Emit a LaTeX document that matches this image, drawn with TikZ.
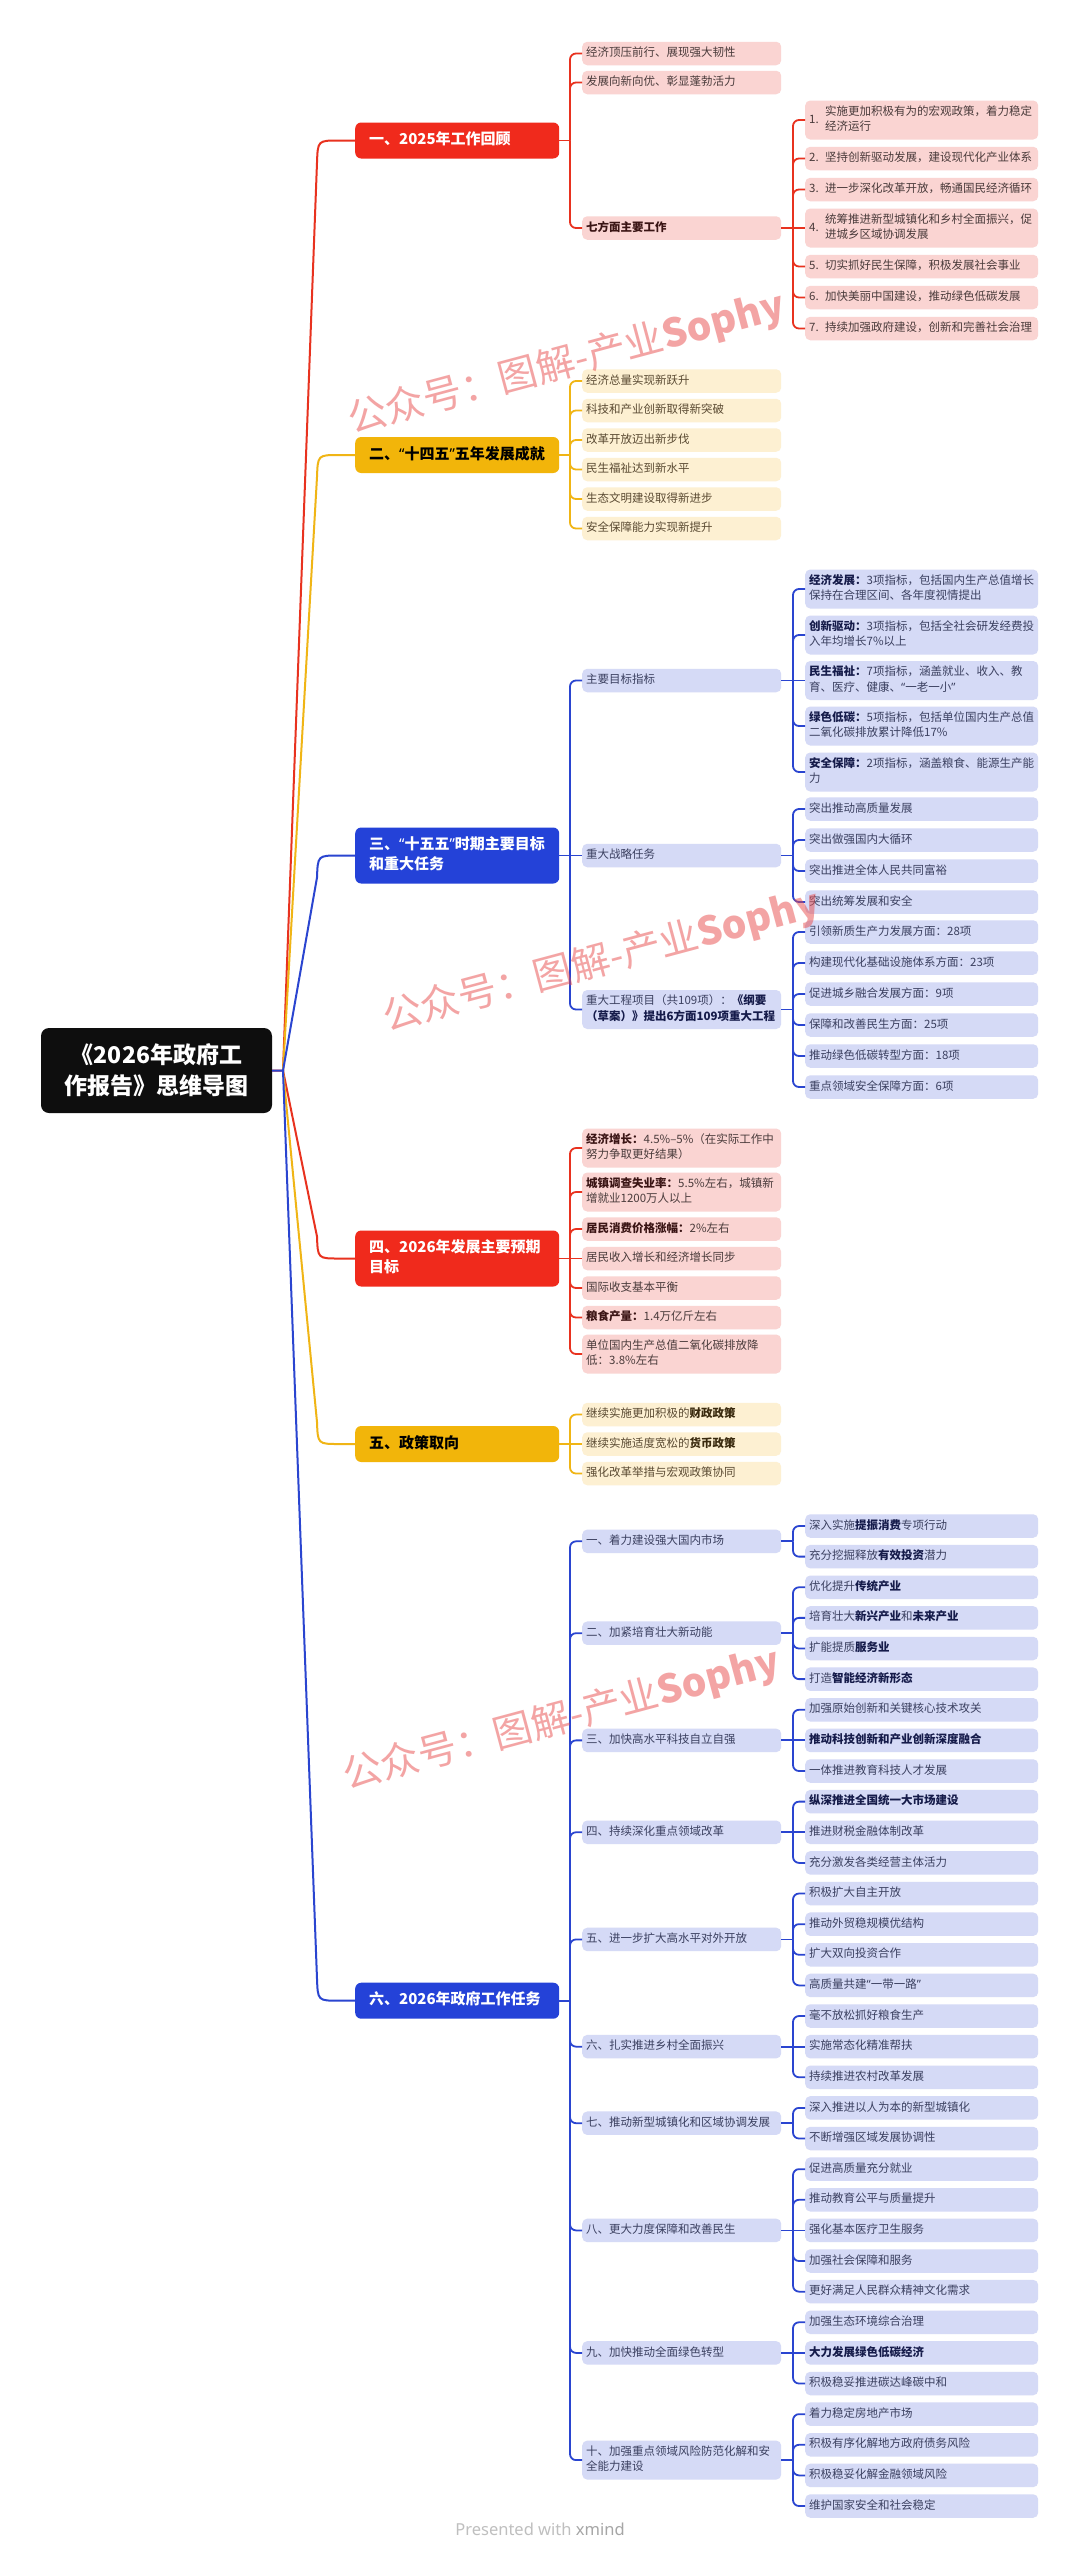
\documentclass[tikz,border=0pt]{standalone}
\usepackage{fontspec}
\setmainfont{Noto Sans CJK SC}
\newfontfamily\qfont{Noto Sans}
\newfontfamily\footfont{Noto Sans}
\usetikzlibrary{calc}
\definecolor{rsec}{HTML}{F02A1C}
\definecolor{rline}{HTML}{E8321F}
\definecolor{rfill}{HTML}{FAD4D2}
\definecolor{rtext}{HTML}{4A3B3B}
\definecolor{rbold}{HTML}{3A1414}
\definecolor{ysec}{HTML}{F2B50A}
\definecolor{yline}{HTML}{F0B515}
\definecolor{yfill}{HTML}{FDF0D2}
\definecolor{ytext}{HTML}{5A4A32}
\definecolor{ybold}{HTML}{3A2A0E}
\definecolor{bsec}{HTML}{2442D8}
\definecolor{bline}{HTML}{2A45D0}
\definecolor{bfill}{HTML}{D5DAF6}
\definecolor{btext}{HTML}{3B4060}
\definecolor{bbold}{HTML}{151B4A}
\definecolor{wm}{HTML}{E84A4A}
\definecolor{rootfill}{HTML}{0E0E0E}
\newcommand{\qL}{{\qfont “}}
\newcommand{\qR}{{\qfont ”}}
\newcommand{\bdR}[1]{{\bfseries\color{rbold}#1}}
\newcommand{\bdY}[1]{{\bfseries\color{ybold}#1}}
\newcommand{\bdB}[1]{{\bfseries\color{bbold}#1}}
\newcommand{\numi}[2]{\makebox[16pt][l]{#1}#2}
\newcommand{\numii}[3]{\makebox[16pt][l]{#1}\begin{tabular}[c]{@{}l@{}}#2\\#3\end{tabular}}
\begin{document}
\begin{tikzpicture}[x=1pt,y=-1pt,
  box/.style={rectangle, rounded corners=5pt, anchor=west, inner xsep=4pt, inner ysep=4pt, align=left,
    font=\fontsize{11.5}{15.5}\selectfont, execute at begin node=\strut, execute at end node=\strut},
  l2/.style={box, text width=191pt},
  l3/.style={box, text width=225pt},
  rb/.style={fill=rfill, text=rtext},
  yb/.style={fill=yfill, text=ytext},
  bb/.style={fill=bfill, text=btext},
  sec/.style={rectangle, rounded corners=6pt, anchor=west, text width=176pt, inner xsep=14pt, inner ysep=8pt,
    align=left, font=\bfseries\fontsize{15}{20}\selectfont, execute at begin node=\strut, execute at end node=\strut},
  rl/.style={draw=rline, line width=1.8pt, rounded corners=6pt},
  yl/.style={draw=yline, line width=1.8pt, rounded corners=6pt},
  bl/.style={draw=bline, line width=1.8pt, rounded corners=6pt},
  mainline/.style={line width=2pt},
  wmark/.style={anchor=base west, rotate=15, inner sep=0pt, text=wm, text opacity=0.5,
    font=\fontsize{39}{39}\selectfont}
]
\fill[white] (0,0) rectangle (1080,2560);
\useasboundingbox (0,0) rectangle (1080,2560);

% ---------------- root ----------------
\node[fill=rootfill, rounded corners=8pt, minimum width=231pt, minimum height=85pt, text=white, align=center,
  font=\bfseries\fontsize{23}{31}\selectfont] (root) at (156.5,1070.5) {《2026年政府工\\作报告》思维导图};

% ---------------- sections ----------------
\node[sec, fill=rsec, text=white] (s1) at (355,140.5) {一、2025年工作回顾};
\node[sec, fill=ysec, text=black] (s2) at (355,455) {二、\qL 十四五\qR 五年发展成就};
\node[sec, fill=bsec, text=white] (s3) at (355,855.5) {三、\qL 十五五\qR 时期主要目标\\和重大任务};
\node[sec, fill=rsec, text=white] (s4) at (355,1258.5) {四、2026年发展主要预期\\目标};
\node[sec, fill=ysec, text=black] (s5) at (355,1444) {五、政策取向};
\node[sec, fill=bsec, text=white] (s6) at (355,{1526+30.625*15.5}) {六、2026年政府工作任务};

% ---------------- section 1 ----------------
\node[l2, rb] (n1a) at (582,53.5) {经济顶压前行、展现强大韧性};
\node[l2, rb] (n1b) at (582,82.5) {发展向新向优、彰显蓬勃活力};
\node[l2, rb] (n1c) at (582,228) {\bdR{七方面主要工作}};
\node[l3, rb] (n1c1) at (805,120) {\numii{1.}{实施更加积极有为的宏观政策，着力稳定}{经济运行}};
\node[l3, rb] (n1c2) at (805,158.5) {\numi{2.}{坚持创新驱动发展，建设现代化产业体系}};
\node[l3, rb] (n1c3) at (805,189.5) {\numi{3.}{进一步深化改革开放，畅通国民经济循环}};
\node[l3, rb] (n1c4) at (805,228) {\numii{4.}{统筹推进新型城镇化和乡村全面振兴，促}{进城乡区域协调发展}};
\node[l3, rb] (n1c5) at (805,266.5) {\numi{5.}{切实抓好民生保障，积极发展社会事业}};
\node[l3, rb] (n1c6) at (805,297.5) {\numi{6.}{加快美丽中国建设，推动绿色低碳发展}};
\node[l3, rb] (n1c7) at (805,328.5) {\numi{7.}{持续加强政府建设，创新和完善社会治理}};

% ---------------- section 2 ----------------
\node[l2, yb] (n2a) at (582,381) {经济总量实现新跃升};
\node[l2, yb] (n2b) at (582,410.5) {科技和产业创新取得新突破};
\node[l2, yb] (n2c) at (582,440) {改革开放迈出新步伐};
\node[l2, yb] (n2d) at (582,469.5) {民生福祉达到新水平};
\node[l2, yb] (n2e) at (582,499) {生态文明建设取得新进步};
\node[l2, yb] (n2f) at (582,528.5) {安全保障能力实现新提升};

% ---------------- section 3 ----------------
\node[l2, bb] (n3a) at (582,680.5) {主要目标指标};
\node[l2, bb] (n3b) at (582,855.5) {重大战略任务};
\node[l2, bb] (n3c) at (582,1009.5) {\mbox{重大工程项目（共109项）：\bdB{《纲要}}\\\mbox{\bdB{（草案）》提出6方面109项重大工程}}};
\node[l3, bb] (n3a1) at (805,589) {\mbox{\bdB{经济发展：}3项指标，包括国内生产总值增长}\\保持在合理区间、各年度视情提出};
\node[l3, bb] (n3a2) at (805,635) {\mbox{\bdB{创新驱动：}3项指标，包括全社会研发经费投}\\入年均增长7\%以上};
\node[l3, bb] (n3a3) at (805,680.5) {\mbox{\bdB{民生福祉：}7项指标，涵盖就业、收入、教}\\育、医疗、健康、\qL 一老一小\qR};
\node[l3, bb] (n3a4) at (805,726) {\mbox{\bdB{绿色低碳：}5项指标，包括单位国内生产总值}\\二氧化碳排放累计降低17\%};
\node[l3, bb] (n3a5) at (805,772) {\mbox{\bdB{安全保障：}2项指标，涵盖粮食、能源生产能}\\力};
\node[l3, bb] (n3b1) at (805,809) {突出推动高质量发展};
\node[l3, bb] (n3b2) at (805,840) {突出做强国内大循环};
\node[l3, bb] (n3b3) at (805,871) {突出推进全体人民共同富裕};
\node[l3, bb] (n3b4) at (805,902) {突出统筹发展和安全};
\node[l3, bb] (n3c1) at (805,932) {引领新质生产力发展方面：28项};
\node[l3, bb] (n3c2) at (805,963) {构建现代化基础设施体系方面：23项};
\node[l3, bb] (n3c3) at (805,994) {促进城乡融合发展方面：9项};
\node[l3, bb] (n3c4) at (805,1025) {保障和改善民生方面：25项};
\node[l3, bb] (n3c5) at (805,1056) {推动绿色低碳转型方面：18项};
\node[l3, bb] (n3c6) at (805,1087) {重点领域安全保障方面：6项};

% ---------------- section 4 ----------------
\node[l2, rb] (n4a) at (582,1148) {\mbox{\bdR{经济增长：}4.5\%–5\%（在实际工作中}\\努力争取更好结果）};
\node[l2, rb] (n4b) at (582,1192) {\mbox{\bdR{城镇调查失业率：}5.5\%左右，城镇新}\\增就业1200万人以上};
\node[l2, rb] (n4c) at (582,1229) {\bdR{居民消费价格涨幅：}2\%左右};
\node[l2, rb] (n4d) at (582,1258.5) {居民收入增长和经济增长同步};
\node[l2, rb] (n4e) at (582,1288) {国际收支基本平衡};
\node[l2, rb] (n4f) at (582,1317.5) {\bdR{粮食产量：}1.4万亿斤左右};
\node[l2, rb] (n4g) at (582,1354) {\mbox{单位国内生产总值二氧化碳排放降}\\低：3.8\%左右};

% ---------------- section 5 ----------------
\node[l2, yb] (n5a) at (582,1414.5) {继续实施更加积极的\bdY{财政政策}};
\node[l2, yb] (n5b) at (582,1444) {继续实施适度宽松的\bdY{货币政策}};
\node[l2, yb] (n5c) at (582,1473.5) {强化改革举措与宏观政策协同};

% ---------------- section 6 ----------------
\foreach \t [count=\i from 0] in {
  深入实施\bdB{提振消费}专项行动, 充分挖掘释放\bdB{有效投资}潜力,
  优化提升\bdB{传统产业}, 培育壮大\bdB{新兴产业}和\bdB{未来产业}, 扩能提质\bdB{服务业}, 打造\bdB{智能经济新形态},
  加强原始创新和关键核心技术攻关, \bdB{推动科技创新和产业创新深度融合}, 一体推进教育科技人才发展,
  \bdB{纵深推进全国统一大市场建设}, 推进财税金融体制改革, 充分激发各类经营主体活力,
  积极扩大自主开放, 推动外贸稳规模优结构, 扩大双向投资合作, 高质量共建\qL 一带一路\qR,
  毫不放松抓好粮食生产, 实施常态化精准帮扶, 持续推进农村改革发展,
  深入推进以人为本的新型城镇化, 不断增强区域发展协调性,
  促进高质量充分就业, 推动教育公平与质量提升, 强化基本医疗卫生服务, 加强社会保障和服务, 更好满足人民群众精神文化需求,
  加强生态环境综合治理, \bdB{大力发展绿色低碳经济}, 积极稳妥推进碳达峰碳中和,
  着力稳定房地产市场, 积极有序化解地方政府债务风险, 积极稳妥化解金融领域风险, 维护国家安全和社会稳定}
  {\node[l3, bb] (m\i) at (805,{1526+30.625*\i}) {\t};}

\foreach \t/\k/\nm in {一、着力建设强大国内市场/0.5/c1, 二、加紧培育壮大新动能/3.5/c2,
  三、加快高水平科技自立自强/7/c3, 四、持续深化重点领域改革/10/c4, 五、进一步扩大高水平对外开放/13.5/c5,
  六、扎实推进乡村全面振兴/17/c6, 七、推动新型城镇化和区域协调发展/19.5/c7, 八、更大力度保障和改善民生/23/c8,
  九、加快推动全面绿色转型/27/c9}
  {\node[l2, bb] (\nm) at (582,{1526+30.625*\k}) {\t};
   \coordinate (q\nm) at (793,{1526+30.625*\k});}
\node[l2, bb] (c10) at (582,{1526+30.625*30.5}) {\mbox{十、加强重点领域风险防范化解和安}\\全能力建设};
\coordinate (qc10) at (793,{1526+30.625*30.5});

% ---------------- root branches ----------------
\coordinate (rj) at (283,1070.5);
\draw[rline, mainline] (root.east) -- (rj) -- (317,162.5) .. controls (317.8,140.5) .. (339,140.5) -- (s1.west);
\draw[yline, mainline] (rj) -- (317,477) .. controls (317.8,455) .. (339,455) -- (s2.west);
\draw[bline, mainline] (rj) -- (317,877.5) .. controls (317.8,855.5) .. (339,855.5) -- (s3.west);
\draw[rline, mainline] (rj) -- (317,1236.5) .. controls (317.8,1258.5) .. (339,1258.5) -- (s4.west);
\draw[yline, mainline] (rj) -- (317,1422) .. controls (317.8,1444) .. (339,1444) -- (s5.west);
\draw[bline, mainline] (root.east) -- (rj) -- (317,{1526+30.625*15.5-22}) .. controls (317.8,{1526+30.625*15.5}) .. (339,{1526+30.625*15.5}) -- (s6.west);

% ---------------- section 1 connectors ----------------
\coordinate (p1) at (570,140.5);
\draw[rl] (s1.east) -- (p1);
\foreach \c in {n1a,n1b,n1c} \draw[rl] (p1) |- (\c.west);
\coordinate (q1c) at (793,228);
\draw[rl] (n1c.east) -- (q1c);
\foreach \c in {n1c1,n1c2,n1c3,n1c5,n1c6,n1c7} \draw[rl] (q1c) |- (\c.west);
\draw[rl] (q1c) -- (n1c4.west);

% ---------------- section 2 connectors ----------------
\coordinate (p2) at (570,455);
\draw[yl] (s2.east) -- (p2);
\foreach \c in {n2a,n2b,n2c,n2d,n2e,n2f} \draw[yl] (p2) |- (\c.west);

% ---------------- section 3 connectors ----------------
\coordinate (p3) at (570,855.5);
\draw[bl] (s3.east) -- (p3);
\foreach \c in {n3a,n3c} \draw[bl] (p3) |- (\c.west);
\draw[bl] (p3) -- (n3b.west);
\coordinate (q3a) at (793,680.5);
\coordinate (q3b) at (793,855.5);
\coordinate (q3c) at (793,1009.5);
\draw[bl] (n3a.east) -- (q3a);
\draw[bl] (n3b.east) -- (q3b);
\draw[bl] (n3c.east) -- (q3c);
\foreach \c in {n3a1,n3a2,n3a4,n3a5} \draw[bl] (q3a) |- (\c.west);
\draw[bl] (q3a) -- (n3a3.west);
\foreach \c in {n3b1,n3b2,n3b3,n3b4} \draw[bl] (q3b) |- (\c.west);
\foreach \c in {n3c1,n3c2,n3c3,n3c4,n3c5,n3c6} \draw[bl] (q3c) |- (\c.west);

% ---------------- section 4 connectors ----------------
\coordinate (p4) at (570,1258.5);
\draw[rl] (s4.east) -- (p4);
\foreach \c in {n4a,n4b,n4c,n4e,n4f,n4g} \draw[rl] (p4) |- (\c.west);
\draw[rl] (p4) -- (n4d.west);

% ---------------- section 5 connectors ----------------
\coordinate (p5) at (570,1444);
\draw[yl] (s5.east) -- (p5);
\foreach \c in {n5a,n5c} \draw[yl] (p5) |- (\c.west);
\draw[yl] (p5) -- (n5b.west);

% ---------------- section 6 connectors ----------------
\coordinate (p6) at (570,{1526+30.625*15.5});
\draw[bl] (s6.east) -- (p6);
\foreach \c in {c1,c2,c3,c4,c5,c6,c7,c8,c9,c10} \draw[bl] (p6) |- (\c.west);
\foreach \c in {c1,c2,c3,c4,c5,c6,c7,c8,c9,c10} \draw[bl] (\c.east) -- (q\c);
\foreach \p/\c in {c1/0,c1/1,c2/2,c2/3,c2/4,c2/5,c3/6,c3/8,c4/9,c4/11,c5/12,c5/13,c5/14,c5/15,
  c6/16,c6/18,c7/19,c7/20,c8/21,c8/22,c8/24,c8/25,c9/26,c9/28,c10/29,c10/30,c10/31,c10/32}
  \draw[bl] (q\p) |- (m\c.west);
\foreach \p/\c in {c3/7,c4/10,c6/17,c8/23,c9/27} \draw[bl] (q\p) -- (m\c.west);

% ---------------- footer ----------------
\node[font=\footfont\fontsize{16.5}{18}\selectfont, text=black!25] (foot) at (540,2529) {Presented with \textbf{\color{black!35}xmind}};

% ---------------- watermarks ----------------
\node[wmark] (w1) at (352,434) {公众号：图解-产业\textbf{Sophy}};
\node[wmark] (w2) at (387,1032) {公众号：图解-产业\textbf{Sophy}};
\node[wmark] (w3) at (347,1790) {公众号：图解-产业\textbf{Sophy}};
\end{tikzpicture}
\end{document}
